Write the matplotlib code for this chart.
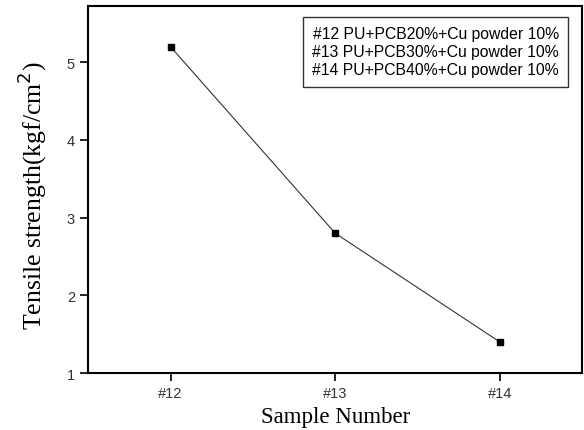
import matplotlib
matplotlib.use("Agg")
import matplotlib.pyplot as plt

samples = ["#12", "#13", "#14"]
strength = [5.2, 2.8, 1.4]
legend_lines = ["#12 PU+PCB20%+Cu powder 10%",
                "#13 PU+PCB30%+Cu powder 10%",
                "#14 PU+PCB40%+Cu powder 10%"]
yticks = [1, 2, 3, 4, 5]

fig = plt.figure(figsize=(5.84, 4.31), dpi=100)
ax = fig.add_axes([0.151, 0.132, 0.846, 0.851])
x = list(range(len(samples)))
ax.plot(x, strength, color="#333333", lw=0.8, marker="s", ms=5,
        mfc="black", mec="black")
ax.set_xlim(-0.5, 2.5)
ax.set_ylim(1, 5.72)
ax.set_xticks(x)
ax.set_xticklabels(samples)
ax.set_yticks(yticks)
for s in ax.spines.values():
    s.set_linewidth(1.5)
ax.tick_params(direction="out", length=6, width=1.2, labelsize=10.5,
               labelcolor="#333333")
for lab in ax.get_xticklabels() + ax.get_yticklabels():
    lab.set_family("Liberation Sans")
ax.set_xlabel("Sample Number", family="Liberation Serif", fontsize=16.5, labelpad=4)
ax.set_ylabel("Tensile strength(kgf/cm$^2$)", family="Liberation Serif",
              fontsize=18.5)
ax.yaxis.set_label_coords(-0.08, 0.485)
ax.text(0.9526, 0.9457, "\n".join(legend_lines), transform=ax.transAxes,
        ha="right", va="top", family="Liberation Sans", fontsize=11.3,
        linespacing=1.25,
        bbox=dict(boxstyle="square,pad=0.6", fc="white", ec="#333333", lw=1))
fig.savefig("out.png", dpi=100)
